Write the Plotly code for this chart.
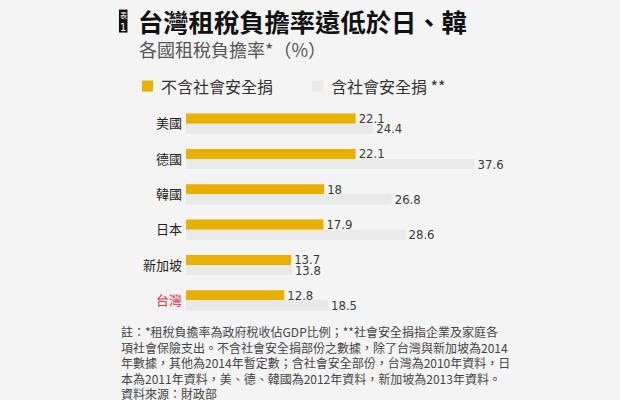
import plotly.graph_objects as go

# data
countries = ['美國', '德國', '韓國', '日本', '新加坡', '台灣']
without_ss = [22.1, 22.1, 18, 17.9, 13.7, 12.8]
with_ss = [24.4, 37.6, 26.8, 28.6, 13.8, 18.5]
series_names = ['不含社會安全捐', '含社會安全捐 **']

GOLD = '#e8b000'
GREY = '#e9e9e9'
BG = '#f4f4f4'
RED = '#e0323c'
CJK = 'Noto Sans CJK TC'
NUM = 'Liberation Sans Narrow, DejaVu Sans Condensed, Noto Sans CJK TC'

W, H = 620, 400
L, R = 186, 492.8
T, B = 106.4, 318.3


def px(x):
    return (x - L) / (R - L)


def py(y):
    return (B - y) / (B - T)


fig = go.Figure()
fig.add_trace(go.Bar(y=countries, x=without_ss, orientation='h', name=series_names[0],
                     marker_color=GOLD, texttemplate='%{x}', textposition='outside',
                     cliponaxis=False))
fig.add_trace(go.Bar(y=countries, x=with_ss, orientation='h', name=series_names[1],
                     marker_color=GREY, texttemplate='%{x}', textposition='outside',
                     cliponaxis=False))
fig.update_traces(marker_line_width=0, constraintext='none',
                  textfont=dict(family=NUM, size=13, color='#3a3a3a'))

ticktext = [f'<span style="color:{RED}">{c}</span>' if c == '台灣' else c for c in countries]

fig.update_layout(
    width=W, height=H,
    margin=dict(l=L, r=W - R, t=T, b=H - B, pad=0),
    paper_bgcolor=BG, plot_bgcolor=BG,
    barmode='group', bargap=0.43, bargroupgap=0,
    showlegend=False,
    font=dict(family=CJK, color='#222'),
    xaxis=dict(range=[0, 40], visible=False),
    yaxis=dict(autorange='reversed', showgrid=False, zeroline=False, showline=False,
               ticks='', tickvals=countries, ticktext=ticktext, ticklabelstandoff=3,
               tickfont=dict(family=CJK, size=13, color='#222')),
)

shapes = []
ann = []

# title badge
shapes.append(dict(type='rect', xref='paper', yref='paper', x0=px(119), x1=px(127.5),
                   y0=py(33), y1=py(10), fillcolor='#111', line_width=0))
ann.append(dict(x=px(123.2), y=py(15.5), text='表', font=dict(family=CJK, size=7, color='white')))
ann.append(dict(x=px(123.2), y=py(27.5), text='1', font=dict(family=NUM, size=11, color='white')))

# title and subtitle
ann.append(dict(x=px(136.5), y=py(21.5), xanchor='left', text='<b>台灣租稅負擔率遠低於日、韓</b>',
                font=dict(family=CJK, size=25.3, color='#111')))
ann.append(dict(x=px(137), y=py(49.5), xanchor='left', text='各國租稅負擔率*（%）',
                font=dict(family=CJK, size=18, color='#555')))

# legend
for x0, col, name in [(142, GOLD, series_names[0]), (312, GREY, series_names[1])]:
    shapes.append(dict(type='rect', xref='paper', yref='paper', x0=px(x0), x1=px(x0 + 11),
                       y0=py(92), y1=py(81), fillcolor=col, line_width=0))
    ann.append(dict(x=px(x0 + 17), y=py(86.5), xanchor='left', text=name,
                    font=dict(family=CJK, size=16, color='#333')))

# footnote
notes = [
    '註：*租稅負擔率為政府稅收佔GDP比例；**社會安全捐指企業及家庭各',
    '項社會保險支出。不含社會安全捐部份之數據，除了台灣與新加坡為2014',
    '年數據，其他為2014年暫定數；含社會安全部份，台灣為2010年資料，日',
    '本為2011年資料，美、德、韓國為2012年資料，新加坡為2013年資料。',
    '資料來源：財政部',
]
ann.append(dict(x=px(119), y=py(321), xanchor='left', yanchor='top', align='left',
                text='<br>'.join(notes), font=dict(family=CJK, size=12, color='#444')))

for a in ann:
    a.update(xref='paper', yref='paper', showarrow=False)
    a.setdefault('xanchor', 'center')
    a.setdefault('yanchor', 'middle')

fig.update_layout(shapes=shapes, annotations=ann)
fig.write_html('out.html', config={'displayModeBar': False},
               post_script="document.body.style.margin='0';")
